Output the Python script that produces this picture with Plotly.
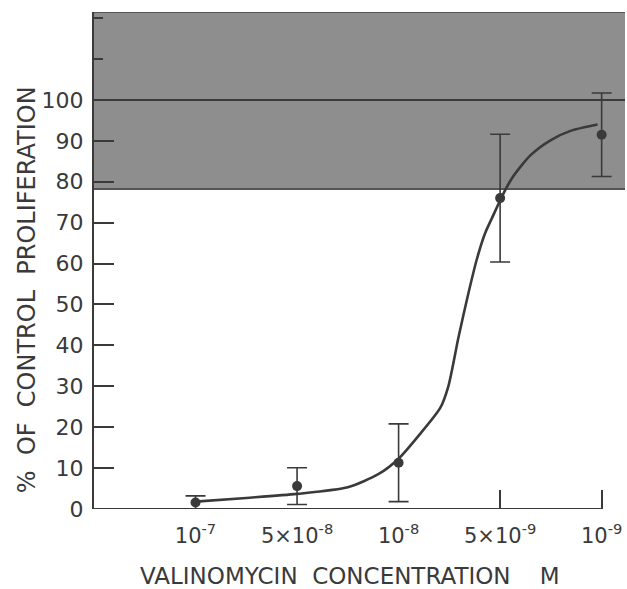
import plotly.graph_objects as go

# categorical concentration positions (1..5), 0 = y-axis
categories = ["10<sup>-7</sup>", "5×10<sup>-8</sup>", "10<sup>-8</sup>", "5×10<sup>-9</sup>", "10<sup>-9</sup>"]
cat_pos = [1, 2, 3, 4, 5]
means = [1.6, 5.6, 11.3, 76.0, 91.5]
errors = [1.6, 4.5, 9.5, 15.6, 10.2]

# fitted curve
curve_x = [1.0, 1.5, 2.0, 2.5, 2.8, 3.0, 3.2, 3.41, 3.49, 3.59, 3.69, 3.77, 3.85, 3.94, 4.02, 4.12, 4.3, 4.5, 4.7, 4.96]
curve_y = [1.8, 2.7, 3.7, 5.3, 8.5, 12.3, 18.0, 24.7, 30.0, 42.0, 53.0, 61.0, 67.3, 72.2, 76.5, 81.0, 86.5, 90.2, 92.5, 94.0]

# control band (mean +/- range) and control line
band_low, band_high, control = 78.2, 121.5, 100

y_ticks = list(range(0, 110, 10))
y_ticktext = [str(v) for v in y_ticks]
y_minor_ticks = [110, 120]

INK = "#3a3a3a"
FONT = "DejaVu Sans"

fig = go.Figure()

fig.add_trace(go.Scatter(
    x=curve_x, y=curve_y, mode="lines",
    line=dict(color=INK, width=2.6, shape="spline", smoothing=0.7),
    hoverinfo="skip", showlegend=False, cliponaxis=False))

fig.add_trace(go.Scatter(
    x=cat_pos, y=means, mode="markers",
    marker=dict(color=INK, size=10),
    error_y=dict(type="data", array=errors, color=INK, thickness=1.6, width=10),
    showlegend=False, cliponaxis=False))

# invisible traces carrying the extra axes (upward x ticks, short y ticks)
fig.add_trace(go.Scatter(x=[4, 5], y=[None, None], xaxis="x2", showlegend=False, hoverinfo="skip"))
fig.add_trace(go.Scatter(x=[None], y=y_minor_ticks, yaxis="y2", mode="markers",
                         showlegend=False, hoverinfo="skip"))

shapes = [
    dict(type="rect", xref="paper", yref="y", x0=0, x1=1, y0=band_low, y1=band_high,
         fillcolor="#8e8e8e", line=dict(width=0), layer="below"),
    dict(type="line", xref="paper", yref="y", x0=0, x1=1, y0=band_low, y1=band_low,
         line=dict(color="#555555", width=2), layer="below"),
    dict(type="line", xref="paper", yref="y", x0=0, x1=1, y0=band_high, y1=band_high,
         line=dict(color="#555555", width=2), layer="below"),
    dict(type="line", xref="paper", yref="y", x0=0, x1=1, y0=control, y1=control,
         line=dict(color="#3a3a3a", width=2), layer="below"),
    # x-axis baseline ends at the last concentration
    dict(type="line", xref="x", yref="y", x0=0, x1=cat_pos[-1], y0=0, y1=0,
         line=dict(color=INK, width=2)),
]

fig.update_layout(
    width=627, height=589,
    margin=dict(l=94, r=2, t=12, b=80),
    paper_bgcolor="white", plot_bgcolor="white",
    font=dict(family=FONT, color=INK),
    shapes=shapes,
    xaxis=dict(range=[0, 5.23], tickvals=cat_pos, ticktext=categories, ticks="",
               showline=False, showgrid=False, zeroline=False,
               tickfont=dict(size=21, color=INK, family=FONT), ticklabelstandoff=12),
    xaxis2=dict(range=[0, 5.23], overlaying="x", side="bottom", tickvals=[4, 5], ticks="inside",
                ticklen=19, tickwidth=1.6, tickcolor=INK, showticklabels=False,
                showgrid=False, zeroline=False, showline=False),
    yaxis=dict(range=[0, 121.5], tickvals=y_ticks, ticktext=y_ticktext, ticks="inside",
               ticklen=20, tickwidth=1.6, tickcolor=INK, showline=True, linecolor=INK,
               linewidth=2, showgrid=False, zeroline=False,
               tickfont=dict(size=22, color=INK, family=FONT), ticklabelstandoff=4),
    yaxis2=dict(range=[0, 121.5], overlaying="y", side="left", tickvals=y_minor_ticks,
                ticks="inside", ticklen=9, tickwidth=1.6, tickcolor=INK, showticklabels=False,
                showgrid=False, zeroline=False, showline=False),
    annotations=[
        dict(text="VALINOMYCIN  CONCENTRATION    M", xref="paper", yref="paper",
             x=(350 - 94) / 531, y=-(576 - 509) / 497, yanchor="middle", xanchor="center",
             showarrow=False, font=dict(size=23, color=INK, family=FONT)),
        dict(text="%  OF  CONTROL  PROLIFERATION", xref="paper", yref="y",
             x=-(94 - 27) / 531, y=53.5, textangle=-90, xanchor="center", yanchor="middle",
             showarrow=False, font=dict(size=24, color=INK, family=FONT)),
    ],
)

fig.write_html("out.html", config={"displayModeBar": False},
               post_script="document.body.style.margin='0';")
